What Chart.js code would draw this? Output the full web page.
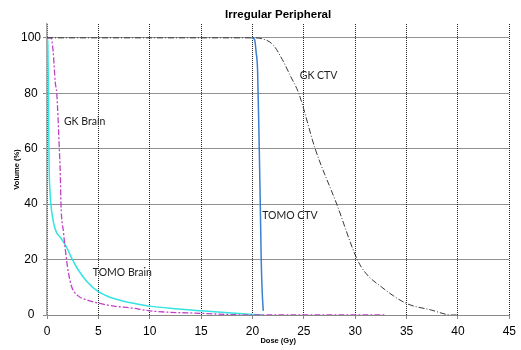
<!DOCTYPE html>
<html>
<head>
<meta charset="utf-8">
<script src="https://cdn.jsdelivr.net/npm/chart.js@4.4.1/dist/chart.umd.min.js"></script>
<style>
  body { margin: 0; background: #fff; }
  #wrap { width: 521px; height: 350px; }
</style>
</head>
<body>
<div id="wrap"><canvas id="dvhChart" width="521" height="350"></canvas></div>
<script>
// Dose (Gy) / volume (%) pairs for each structure
const tomoBrainDose = [0, 0.08, 0.15, 0.2, 0.3, 0.4, 0.6, 0.9, 1.3, 1.9, 2.4, 3, 3.9, 5, 6, 7, 8, 9, 10, 12, 15, 18, 20, 21];
const tomoBrainVol  = [100, 98, 75, 55, 44, 39, 34, 30, 28, 24.5, 20.5, 16.5, 12, 8.4, 6.6, 5.4, 4.5, 3.8, 3.2, 2.4, 1.5, 0.7, 0.2, 0];

const gkBrainDose = [0, 0.4, 0.6, 0.8, 0.95, 1.2, 1.3, 1.36, 1.6, 1.9, 2.1, 2.4, 3, 4, 5, 6.5, 8.3, 10, 15, 20, 33];
const gkBrainVol  = [100, 100, 95, 84, 80, 60, 50, 40, 30, 20, 15, 10.2, 7, 5.3, 4.3, 3.2, 2.5, 1.5, 0.6, 0, 0];

const tomoCtvDose = [19.9, 20.2, 20.35, 20.5, 20.66, 20.76, 20.85, 20.95, 21.05];
const tomoCtvVol  = [100, 99.5, 95, 88, 60, 40, 20, 8, 1.5];

const gkCtvDose = [0, 20, 21, 22, 22.9, 23.7, 24.5, 26.1, 28.2, 30.2, 31, 32.6, 34.9, 37.4, 39.4, 40];
const gkCtvVol  = [100, 100, 99.6, 97.5, 92.2, 86.2, 80, 60, 40, 20, 15.2, 10, 4.3, 1.8, 0, 0];

// curve labels placed in data coordinates
const curveLabels = [
  { text: 'GK Brain', x: 1.65, y: 69.7 },
  { text: 'TOMO Brain', x: 4.46, y: 15.2 },
  { text: 'GK CTV', x: 24.6, y: 86.3 },
  { text: 'TOMO CTV', x: 20.95, y: 35.7 }
];
const chartTitle = 'Irregular Peripheral';

function toPoints(xs, ys) {
  return xs.map((x, i) => ({ x: x, y: ys[i] }));
}

const labelPlugin = {
  id: 'curveLabels',
  afterDatasetsDraw(chart) {
    const { ctx, chartArea, scales } = chart;
    ctx.save();
    ctx.fillStyle = '#000';
    ctx.font = 'bold 11.5px "Liberation Sans", Arial, sans-serif';
    ctx.textAlign = 'center';
    ctx.textBaseline = 'middle';
    ctx.fillText(chartTitle, (chartArea.left + chartArea.right) / 2, 15);

    ctx.fillStyle = '#222';
    ctx.font = '10.5px Lato, sans-serif';
    ctx.textAlign = 'left';
    curveLabels.forEach(l => {
      ctx.fillText(l.text, scales.x.getPixelForValue(l.x), scales.y.getPixelForValue(l.y));
    });
    ctx.restore();
  }
};

const ctx = document.getElementById('dvhChart').getContext('2d');

const myChart = new Chart(ctx, {
  type: 'line',
  data: {
    datasets: [
      {
        label: 'GK CTV',
        data: toPoints(gkCtvDose, gkCtvVol),
        borderColor: '#3a3a3a',
        borderWidth: 1,
        borderDash: [6, 2, 1, 2],
        cubicInterpolationMode: 'monotone'
      },
      {
        label: 'GK Brain',
        data: toPoints(gkBrainDose, gkBrainVol),
        borderColor: '#c23fc8',
        borderWidth: 1.3,
        borderDash: [6, 2, 2, 2],
        cubicInterpolationMode: 'monotone'
      },
      {
        label: 'TOMO Brain',
        data: toPoints(tomoBrainDose, tomoBrainVol),
        borderColor: '#35e3e3',
        borderWidth: 1.5,
        cubicInterpolationMode: 'monotone'
      },
      {
        label: 'TOMO CTV',
        data: toPoints(tomoCtvDose, tomoCtvVol),
        borderColor: '#3a7fd0',
        borderWidth: 1.5,
        cubicInterpolationMode: 'monotone'
      }
    ]
  },
  options: {
    responsive: false,
    animation: false,
    parsing: false,
    elements: { point: { radius: 0 } },
    layout: { padding: { top: 24, right: 10, left: 0, bottom: 0 } },
    plugins: {
      legend: { display: false },
      tooltip: { enabled: false }
    },
    scales: {
      x: {
        type: 'linear',
        min: 0,
        max: 45,
        afterFit: scale => { scale.height = 35; },
        ticks: {
          stepSize: 5,
          padding: 5,
          color: '#000',
          font: { family: '"Liberation Sans", Arial, sans-serif', size: 12 }
        },
        grid: { color: '#222', tickLength: 4, tickColor: '#888', tickBorderDash: [] },
        border: { display: true, color: '#888', width: 1, dash: [1, 1] },
        title: {
          display: true,
          text: 'Dose (Gy)',
          color: '#000',
          font: { family: '"Liberation Sans", Arial, sans-serif', size: 7.5, weight: 'bold' },
          padding: { top: 0, bottom: 4.5 }
        }
      },
      y: {
        min: 0,
        max: 105,
        afterFit: scale => { scale.width = 47; },
        afterBuildTicks: scale => {
          scale.ticks = scale.ticks.filter(t => t.value % 20 === 0);
        },
        ticks: {
          stepSize: 20,
          padding: 2,
          crossAlign: 'center',
          color: '#000',
          font: { family: '"Liberation Sans", Arial, sans-serif', size: 12 }
        },
        grid: { color: '#222', tickLength: 4, tickColor: '#888', tickBorderDash: [] },
        border: { display: true, color: '#a8a8a8', width: 1.5, dash: [1, 1] },
        title: {
          display: true,
          text: 'Volume (%)',
          color: '#000',
          font: { family: '"Liberation Sans", Arial, sans-serif', size: 7.5, weight: 'bold' },
          padding: { top: 12.5, bottom: 0 }
        }
      }
    }
  },
  plugins: [labelPlugin]
});
</script>
</body>
</html>
